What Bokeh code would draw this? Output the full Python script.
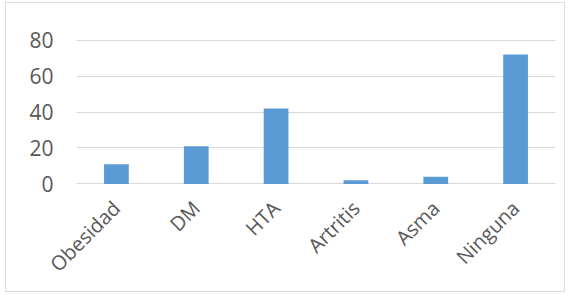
import math
from bokeh.plotting import figure
from bokeh.models import Range1d, ColumnDataSource
from bokeh.embed import file_html
from bokeh.resources import INLINE

categories = ["Obesidad", "DM", "HTA", "Artritis", "Asma", "Ninguna"]
values = [11, 21, 42, 2, 4, 72]
y_ticks = [0, 20, 40, 60, 80]

src = ColumnDataSource(data=dict(cat=categories, val=values))

p = figure(x_range=categories, y_range=Range1d(-0.3, 80.3),
           width=560, height=290, output_backend="svg", toolbar_location=None,
           min_border_left=70, min_border_right=11, min_border_top=36, min_border_bottom=109)
p.margin = (2, 0, 0, 5)
p.styles = {"border": "1px solid #dcdcdc"}
p.outline_line_color = None
p.background_fill_color = "white"
p.border_fill_color = "white"

p.vbar(x="cat", top="val", bottom=0, width=0.31, source=src,
       fill_color="#5B9BD5", line_color=None)

p.x_range.range_padding = 0
p.yaxis.ticker = y_ticks
p.ygrid.grid_line_color = "#d9d9d9"
p.ygrid.grid_line_width = 1
p.xgrid.grid_line_color = None

for ax in (p.xaxis, p.yaxis):
    ax.axis_line_color = None
    ax.major_tick_line_color = None
    ax.minor_tick_line_color = None
    ax.major_label_text_color = "#595959"
    ax.major_label_text_font = "Open Sans"

p.yaxis.major_label_text_font_size = "21px"
p.xaxis.major_label_text_font_size = "20px"
p.yaxis.major_label_standoff = 17
p.xaxis.major_label_standoff = 14
p.xaxis.major_label_orientation = math.pi / 4

open("out.html", "w").write(file_html(p, INLINE))
